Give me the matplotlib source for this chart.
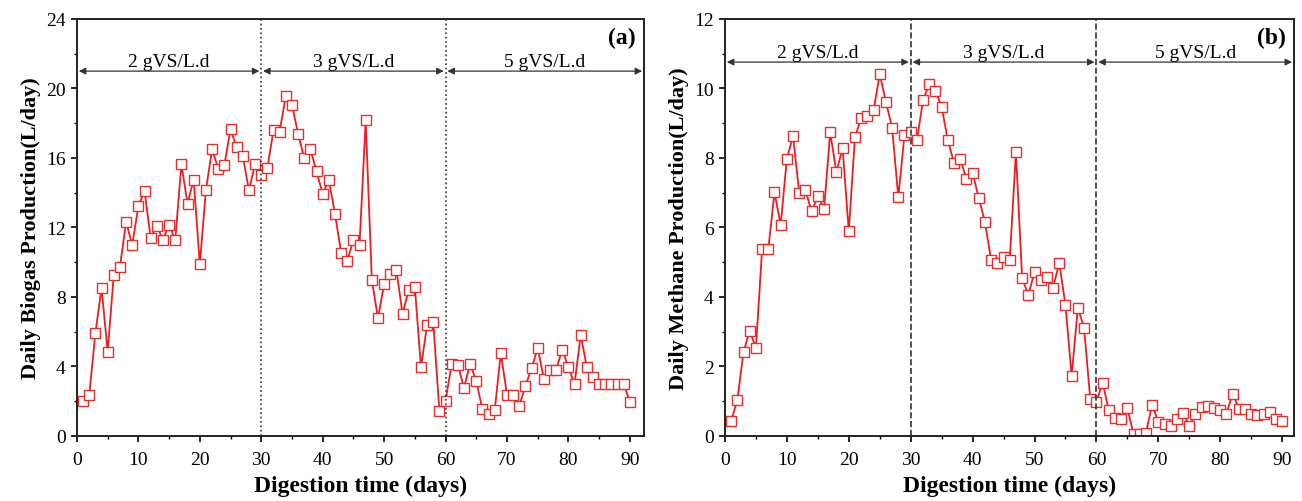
import numpy as np
import matplotlib.pyplot as plt
from matplotlib.ticker import MultipleLocator

plt.rcParams['font.family'] = ['Liberation Serif', 'DejaVu Serif']

days = np.arange(1, 91)

biogas = [
    2.0, 2.36, 5.91, 8.52, 4.86, 9.29, 9.73, 12.32, 11.0, 13.24,
    14.1, 11.4, 12.09, 11.29, 12.17, 11.27, 15.64, 13.38, 14.76, 9.87,
    14.17, 16.5, 15.39, 15.6, 17.64, 16.62, 16.12, 14.13, 15.64, 15.0,
    15.43, 17.6, 17.52, 19.58, 19.06, 17.39, 16.0, 16.49, 15.24, 13.93,
    14.72, 12.8, 10.54, 10.08, 11.29, 11.0, 18.16, 8.98, 6.78, 8.73,
    9.31, 9.56, 7.02, 8.41, 8.58, 3.95, 6.39, 6.55, 1.44, 2.02,
    4.15, 4.11, 2.76, 4.17, 3.15, 1.55, 1.27, 1.48, 4.78, 2.38,
    2.34, 1.73, 2.88, 3.9, 5.05, 3.3, 3.82, 3.82, 4.97, 3.95,
    2.98, 5.82, 3.95, 3.4, 2.98, 2.98, 2.98, 2.98, 2.98, 1.98,
]

methane = [
    0.43, 1.04, 2.42, 3.03, 2.53, 5.37, 5.37, 7.01, 6.07, 7.98,
    8.63, 6.99, 7.08, 6.46, 6.9, 6.52, 8.74, 7.59, 8.29, 5.89,
    8.59, 9.16, 9.2, 9.37, 10.42, 9.61, 8.87, 6.87, 8.67, 8.76,
    8.51, 9.66, 10.13, 9.94, 9.47, 8.51, 7.86, 7.98, 7.39, 7.57,
    6.85, 6.15, 5.06, 4.99, 5.15, 5.07, 8.16, 4.55, 4.06, 4.71,
    4.48, 4.58, 4.27, 4.98, 3.76, 1.73, 3.69, 3.12, 1.06, 0.99,
    1.53, 0.74, 0.52, 0.49, 0.8, 0.05, 0.05, 0.1, 0.89, 0.41,
    0.34, 0.28, 0.48, 0.66, 0.28, 0.63, 0.82, 0.85, 0.8, 0.75,
    0.64, 1.22, 0.79, 0.79, 0.64, 0.59, 0.64, 0.68, 0.49, 0.43,
]

phase_edges = [0, 30, 60]
phase_labels = ['2 gVS/L.d', '3 gVS/L.d', '5 gVS/L.d']

fig = plt.figure(figsize=(13.02, 5.02), dpi=100)
ax1 = fig.add_axes([0.0591, 0.1295, 0.4355, 0.8307])
ax2 = fig.add_axes([0.5568, 0.1295, 0.437, 0.8307])

panels = [
    (ax1, biogas, 'Daily Biogas Production(L/day)', 24, 4, 2, 21.0, 21.3, ':', '(a)', 92.3),
    (ax2, methane, 'Daily Methane Production(L/day)', 12, 2, 1, 10.76, 10.91, '--', '(b)', 91.9),
]

for ax, vals, ylab, ymax, ymaj, ymin, yarr, ytxt, vls, tag, xmax in panels:
    ax.plot(days, vals, color='#ee1c1c', lw=1.3, marker='s', ms=6.6,
            mfc='white', mec='#ee2a2a', mew=1.0)
    ax.set_xlim(0, xmax)
    ax.set_ylim(0, ymax)
    ax.xaxis.set_major_locator(MultipleLocator(10))
    ax.xaxis.set_minor_locator(MultipleLocator(5))
    ax.yaxis.set_major_locator(MultipleLocator(ymaj))
    ax.yaxis.set_minor_locator(MultipleLocator(ymin))
    ax.tick_params(which='major', direction='out', length=4.5, width=1.2, labelsize=14)
    ax.tick_params(axis='x', which='major', pad=6)
    ax.tick_params(which='minor', direction='out', length=2.5, width=1.0)
    for s in ax.spines.values():
        s.set_linewidth(1.4)
        s.set_color('#222222')

    # period separators
    for xv in phase_edges[1:]:
        ax.axvline(xv, color='#333333', ls=vls, lw=1.2)

    # period arrows and labels
    ends = phase_edges[1:] + [xmax]
    for x0, x1, lab in zip(phase_edges, ends, phase_labels):
        ax.annotate('', xy=(x0 + 0.3, yarr), xytext=(x1 - 0.3, yarr),
                    arrowprops=dict(arrowstyle='<|-|>', color='#333333', lw=0.9,
                                    mutation_scale=10, shrinkA=0, shrinkB=0))
        ax.text((x0 + x1) / 2, ytxt, lab, ha='center', va='baseline', fontsize=14)

    ax.text(0.985, 0.982, tag, transform=ax.transAxes, ha='right', va='top',
            fontsize=17, fontweight='bold')
    ax.set_xlabel('Digestion time (days)', fontsize=17, fontweight='bold', labelpad=5)
    ax.set_ylabel(ylab, fontsize=16, fontweight='bold', labelpad=4)

fig.savefig('out.png', dpi=100)
